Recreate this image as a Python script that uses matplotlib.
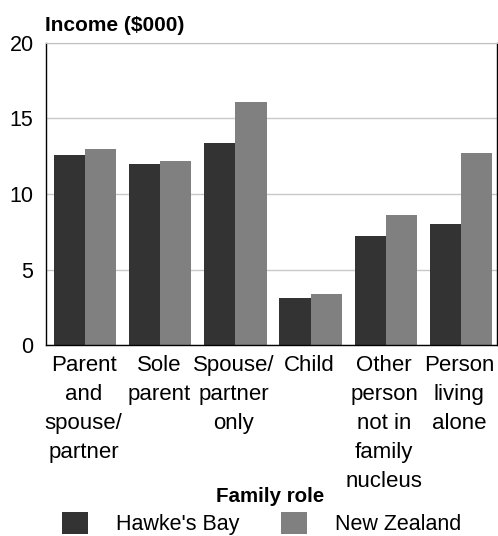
import matplotlib.pyplot as plt
import numpy as np

# Datos del gráfico
categories = ["Parent\nand\nspouse/\npartner", "Sole\nparent", "Spouse/\npartner\nonly",
              "Child", "Other\nperson\nnot in\nfamily\nnucleus", "Person\nliving\nalone"]
hawkes_bay = [12.6, 12.0, 13.4, 3.1, 7.2, 8.0]
new_zealand = [13.0, 12.2, 16.1, 3.4, 8.6, 12.7]
series_names = ["Hawke's Bay", "New Zealand"]
yticks = [0, 5, 10, 15, 20]

plt.rcParams['font.family'] = ['Liberation Sans', 'DejaVu Sans']

fig = plt.figure(figsize=(4.98, 5.36), dpi=100)
ax = fig.add_axes([0.0924, 0.3563, 0.9056, 0.5635])

x = np.arange(len(categories))
w = 0.415
b1 = ax.bar(x - w/2 + 0.02, hawkes_bay, w, color="#333333", label=series_names[0], zorder=2)
b2 = ax.bar(x + w/2 + 0.02, new_zealand, w, color="#808080", label=series_names[1], zorder=2)

ax.set_xlim(-0.5, len(categories) - 0.5)
ax.set_ylim(0, 20)
ax.set_yticks(yticks)
ax.set_yticklabels([str(t) for t in yticks], fontsize=15.5)
ax.set_xticks(x)
ax.set_xticklabels(categories, fontsize=16, linespacing=1.5, va="top")
ax.tick_params(axis="x", length=0, pad=7)
ax.tick_params(axis="y", length=0, pad=9)

ax.grid(axis="y", color="#c8c8c8", linewidth=1, zorder=0)
ax.spines["top"].set_color("#c0c0c0")
for s in ["left", "bottom", "right"]:
    ax.spines[s].set_color("black")
    ax.spines[s].set_linewidth(1)

fig.text(0.09, 0.953, "Income ($000)", fontsize=15, fontweight="bold", ha="left", va="center")
fig.text(0.542, 0.0728, "Family role", fontsize=14.8, fontweight="bold", ha="center", va="center")

fig.legend(handles=[b1, b2], labels=series_names, loc="center",
           bbox_to_anchor=(0.525, 0.023), ncol=2, frameon=False, fontsize=15.5,
           handlelength=1.2, handleheight=1.2, columnspacing=1.95, handletextpad=1.3,
           borderpad=0)

fig.savefig("out.png", dpi=100)
